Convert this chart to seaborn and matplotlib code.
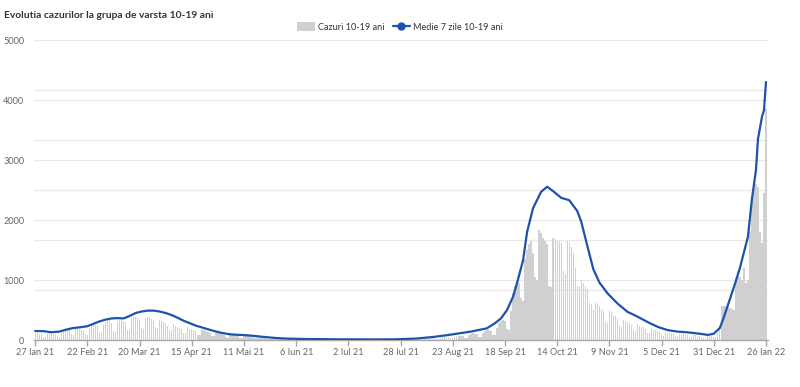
import numpy as np
import pandas as pd
import matplotlib
matplotlib.use("Agg")
import matplotlib.pyplot as plt
import seaborn as sns
from matplotlib.patches import Patch
from matplotlib.lines import Line2D
from matplotlib.ticker import MultipleLocator, FixedLocator

# ---------------- data ----------------
start_date = "2021-01-27"

# daily cases (10-19 ani), 27 Jan 2021 .. 26 Jan 2022
cases = [
    115, 110, 100, 95, 55, 50, 105,
    120, 115, 105, 100, 60, 55, 125,
    150, 165, 175, 160, 95, 80, 185,
    195, 180, 170, 160, 95, 90, 200,
    260, 275, 250, 230, 130, 120, 270,
    300, 330, 350, 280, 150, 140, 310,
    330, 340, 320, 300, 170, 160, 360,
    380, 390, 360, 340, 200, 190, 370,
    390, 380, 350, 320, 210, 200, 340,
    320, 300, 280, 230, 170, 160, 270,
    230, 220, 200, 180, 120, 110, 210,
    190, 180, 170, 150, 90, 80, 170,
    160, 150, 140, 120, 70, 60, 130,
    120, 110, 100, 80, 50, 40, 90,
    90, 85, 80, 70, 40, 35, 75,
    80, 75, 70, 60, 35, 30, 60,
    60, 55, 50, 45, 25, 20, 45,
    45, 40, 38, 32, 18, 15, 35,
    32, 30, 28, 25, 14, 12, 26,
    25, 24, 22, 20, 12, 10, 20,
    20, 19, 18, 16, 10, 8, 17,
    17, 16, 15, 14, 8, 7, 15,
    15, 15, 14, 13, 8, 7, 14,
    15, 14, 14, 12, 7, 6, 14,
    15, 15, 14, 13, 8, 7, 15,
    17, 18, 17, 15, 9, 8, 18,
    22, 24, 23, 20, 12, 11, 25,
    28, 30, 29, 26, 15, 14, 32,
    35, 38, 36, 33, 20, 18, 40,
    50, 55, 52, 48, 28, 26, 58,
    70, 75, 72, 65, 38, 35, 80,
    100, 110, 105, 95, 55, 50, 120,
    150, 165, 160, 145, 85, 80, 200,
    280, 320, 340, 310, 180, 170, 480,
    780, 900, 1000, 950, 700, 650, 1350,
    1500, 1600, 1650, 1450, 1050, 1000, 1830,
    1780, 1700, 1650, 1600, 900, 880, 1700,
    1680, 1650, 1650, 1620, 1150, 1100, 1650,
    1620, 1550, 1450, 1200, 900, 880, 1000,
    950, 900, 850, 620, 600, 500, 620,
    600, 560, 520, 480, 300, 280, 480,
    460, 420, 400, 350, 230, 210, 330,
    320, 300, 280, 250, 160, 150, 260,
    240, 220, 210, 190, 120, 110, 180,
    170, 160, 150, 130, 80, 75, 130,
    125, 120, 110, 100, 65, 60, 105,
    100, 95, 90, 85, 55, 50, 80,
    80, 75, 70, 50, 35, 40, 60,
    70, 65, 45, 50, 120, 170, 560,
    560, 570, 550, 540, 520, 500, 1000,
    1150, 1050, 1000, 1200, 950, 1000, 1800,
    2300, 2600, 2600, 2550, 1800, 1620, 2450,
    3850,
]

# 7-day average line, read at these day offsets from start_date
line_day = [0, 4, 8, 12, 15, 19, 23, 26, 29, 32, 35, 38, 41, 44, 47, 50, 53,
            56, 59, 62, 65, 68, 71, 74, 77, 80, 84, 88, 92, 96, 100, 104, 108,
            112, 116, 120, 126, 135, 150, 170, 180, 190, 198, 205, 217, 225,
            229, 232, 235, 238, 240, 243, 245, 248, 252, 255, 258, 262, 266,
            270, 272, 275, 278, 281, 285, 290, 295, 300, 305, 310, 315, 320,
            325, 331, 335, 338, 341, 343, 345, 348, 351, 355, 357, 359, 360,
            362, 363, 364]
line_val = [150, 148, 130, 140, 170, 200, 215, 230, 270, 310, 340, 360, 365,
            360, 400, 450, 475, 490, 490, 475, 450, 415, 370, 320, 280, 240,
            200, 160, 125, 100, 88, 82, 72, 58, 45, 33, 23, 17, 12, 10, 12, 25,
            50, 80, 140, 195, 280, 360, 500, 720, 950, 1330, 1800, 2200, 2470,
            2555, 2480, 2370, 2330, 2150, 1970, 1570, 1180, 960, 780, 610, 470,
            390, 300, 220, 165, 140, 128, 105, 85, 105, 200, 380, 580, 880,
            1200, 1720, 2350, 2830, 3350, 3720, 3830, 4300]

tick_dates = ["2021-01-27", "2021-02-22", "2021-03-20", "2021-04-15",
              "2021-05-11", "2021-06-06", "2021-07-02", "2021-07-28",
              "2021-08-23", "2021-09-18", "2021-10-14", "2021-11-09",
              "2021-12-05", "2021-12-31", "2022-01-26"]
tick_labels = ["27 Ian 21", "22 Feb 21", "20 Mar 21", "15 Apr 21",
               "11 Mai 21", "6 Iun 21", "2 Iul 21", "28 Iul 21", "23 Aug 21",
               "18 Sep 21", "14 Oct 21", "9 Nov 21", "5 Dec 21", "31 Dec 21",
               "26 Ian 22"]
y_ticks = [0, 1000, 2000, 3000, 4000, 5000]

title = "Evolutia cazurilor la grupa de varsta 10-19 ani"
bar_label = "Cazuri 10-19 ani"
line_label = "Medie 7 zile 10-19 ani"

# ---------------- plot ----------------
sns.set_theme(style="white")
plt.rcParams["font.family"] = ["Lato", "DejaVu Sans"]

BAR_COLOR = "#d0d0d0"
LINE_COLOR = "#1d52ad"
TEXT_COLOR = "#666666"
GRID_COLOR = "#e8e8e8"

df = pd.DataFrame({"day": np.arange(len(cases)), "cases": cases})
line_df = pd.DataFrame({"day": line_day, "avg": line_val})
t0 = pd.Timestamp(start_date)
tick_pos = [(pd.Timestamp(d) - t0).days for d in tick_dates]

fig = plt.figure(figsize=(8.0, 3.87), dpi=100)
ax = fig.add_axes([0.0425, 0.1214, 0.9175, 0.7752])

sns.barplot(data=df, x="day", y="cases", native_scale=True, color=BAR_COLOR,
            saturation=1, width=0.68, errorbar=None, linewidth=0, ax=ax,
            zorder=2)
sns.lineplot(data=line_df, x="day", y="avg", color=LINE_COLOR, linewidth=1.6,
             ax=ax, zorder=3)

ax.set_xlim(-0.6, 365.0)
ax.set_ylim(0, 5000)
ax.xaxis.set_major_locator(FixedLocator(tick_pos))
ax.set_xticklabels(tick_labels)
ax.yaxis.set_major_locator(FixedLocator(y_ticks))
ax.yaxis.set_minor_locator(MultipleLocator(5000 / 6))
ax.set_yticklabels([str(v) for v in y_ticks])
ax.set_xlabel("")
ax.set_ylabel("")

ax.grid(True, axis="y", which="both", color=GRID_COLOR, linewidth=0.9, zorder=0)
ax.grid(False, axis="x")
ax.set_axisbelow(True)

for side in ["top", "right", "left"]:
    ax.spines[side].set_visible(False)
ax.spines["bottom"].set_color("#a8a8a8")
ax.spines["bottom"].set_linewidth(1.0)

ax.tick_params(axis="x", which="major", length=4, width=1.0, color="#a8a8a8",
               labelsize=6.6, labelcolor=TEXT_COLOR, pad=1.5, bottom=True)
ax.tick_params(axis="y", which="both", length=0, labelsize=6.6,
               labelcolor=TEXT_COLOR, pad=7)

fig.text(0.005, 0.972, title, ha="left", va="top", fontsize=7.4,
         fontweight="bold", color="#333333")

handles = [Patch(facecolor=BAR_COLOR, edgecolor="none", label=bar_label),
           Line2D([], [], color=LINE_COLOR, linewidth=1.6, marker="o",
                  markersize=5, label=line_label)]
fig.legend(handles=handles, loc="center", bbox_to_anchor=(0.5, 0.93),
           ncol=2, frameon=False, fontsize=6.6, handlelength=1.9,
           handleheight=1.1, columnspacing=0.9, handletextpad=0.35,
           labelcolor="#333333")

fig.savefig("out.png", dpi=100)
